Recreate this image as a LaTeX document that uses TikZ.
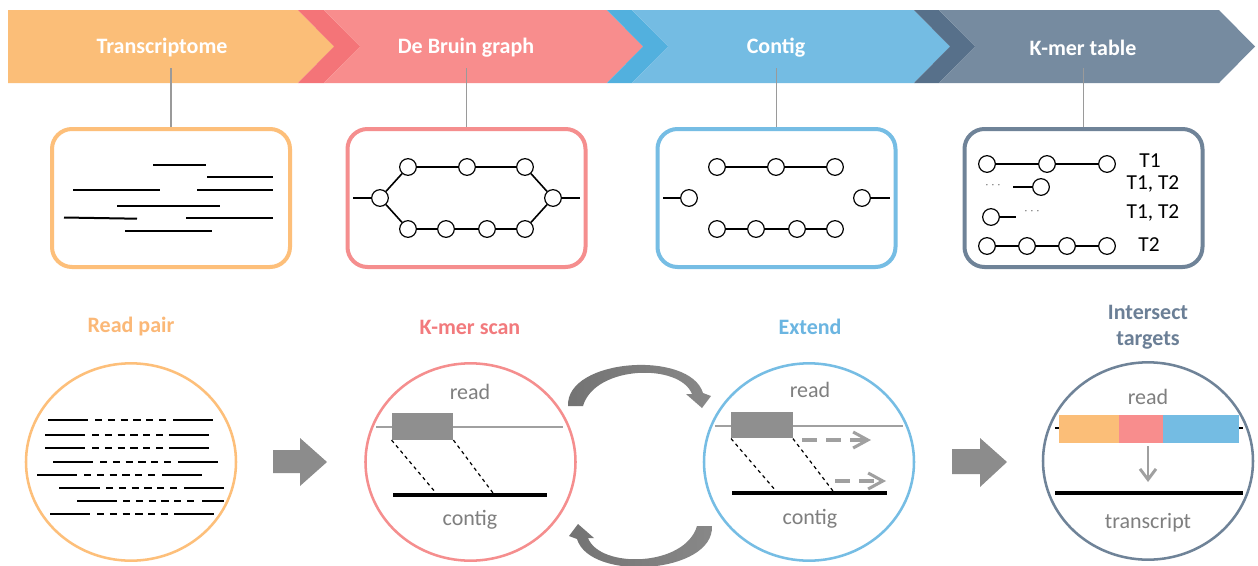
\documentclass[tikz,border=0pt]{standalone}
\usepackage{fontspec}
\setmainfont{Carlito}
\usetikzlibrary{arrows.meta,shapes.geometric}

\definecolor{cOrange}{HTML}{FBBE78}
\definecolor{cPink}{HTML}{F88D8D}
\definecolor{cPinkDk}{HTML}{F47478}
\definecolor{cBlue}{HTML}{74BCE3}
\definecolor{cBlueDk}{HTML}{52B0DE}
\definecolor{cSlate}{HTML}{768BA0}
\definecolor{cSlateDk}{HTML}{57708A}
\definecolor{frameOrange}{HTML}{FDBF7A}
\definecolor{framePink}{HTML}{F58E8E}
\definecolor{frameBlue}{HTML}{76BDE4}
\definecolor{frameSlate}{HTML}{6F8398}
\definecolor{headOrange}{HTML}{FBB877}
\definecolor{headPink}{HTML}{F27A7D}
\definecolor{headBlue}{HTML}{6BB5E1}
\definecolor{headSlate}{HTML}{6B7F96}
\definecolor{stemgray}{HTML}{9A9A9A}
\definecolor{capgray}{HTML}{7F7F7F}
\definecolor{linegray}{HTML}{A0A0A0}
\definecolor{kmergray}{HTML}{8F8F8F}
\definecolor{blockgray}{HTML}{8C8C8C}
\definecolor{arrdark}{HTML}{737373}
\definecolor{arrlight}{HTML}{ADADAD}
\definecolor{arrmid}{HTML}{888888}

\tikzset{
  bannertext/.style={text=white, font=\bfseries\fontsize{16.5}{19}\selectfont},
  stem/.style={draw=stemgray, line width=1.1pt},
  panel/.style={draw, rounded corners=15pt, line width=3pt, minimum width=178.5pt,
    minimum height=103.5pt, fill=white, inner sep=0pt},
  seg/.style={draw=black, line width=1.5pt},
  kn/.style={circle, draw=black, fill=white, line width=0.9pt, minimum size=12.5pt, inner sep=0pt},
  edge/.style={draw=black, line width=1.2pt},
  tlabel/.style={font=\fontsize{16}{19}\selectfont, text=black},
  dotsl/.style={font=\fontsize{10}{10}\selectfont, text=black!60, inner sep=0pt},
  ring/.style={ellipse, draw, line width=1.9pt, minimum width=157.5pt, minimum height=148pt, inner sep=0pt},
  title/.style={font=\bfseries\fontsize{16.5}{19.5}\selectfont, align=center},
  caption/.style={font=\fontsize{16.5}{19}\selectfont, text=capgray},
  readline/.style={draw=linegray, line width=1pt},
  kmer/.style={fill=kmergray, minimum width=46pt, minimum height=20pt, inner sep=0pt},
  link/.style={draw=black, line width=0.9pt, dash pattern=on 2.6pt off 2.6pt},
  contig/.style={draw=black, line width=3.5pt},
  growarrow/.style={draw=linegray, line width=2.3pt, dash pattern=on 11pt off 7pt,
    -{Straight Barb[length=11pt,width=12pt,line width=2.3pt]}},
  downarrow/.style={draw=linegray, line width=2.2pt,
    -{Straight Barb[length=8pt,width=12pt,line width=2.2pt]}},
  pairsolid/.style={draw=black, line width=1.6pt},
  pairgap/.style={draw=black, line width=1.6pt, dash pattern=on 5.4pt off 4.2pt},
  block/.style={fill=blockgray},
  cyclearrow/.style={left color=arrdark, middle color=arrlight, right color=arrmid}
}

\begin{document}
\begin{tikzpicture}[x=0.75pt,y=-0.75pt]
\useasboundingbox[fill=white] (0,0) rectangle (1258,565);

% ---- chevron banner ----
\fill[cOrange] (8,10) -- (298,10) -- (334,46.5) -- (298,83) -- (8,83) -- cycle;
\fill[cPinkDk] (298,10) -- (324,10) -- (360,46.5) -- (324,83) -- (298,83) -- (334,46.5) -- cycle;
\fill[cPink] (324,10) -- (607,10) -- (643,46.5) -- (607,83) -- (324,83) -- (360,46.5) -- cycle;
\fill[cBlueDk] (607,10) -- (632,10) -- (668,46.5) -- (632,83) -- (607,83) -- (643,46.5) -- cycle;
\fill[cBlue] (632,10) -- (914,10) -- (950,46.5) -- (914,83) -- (632,83) -- (668,46.5) -- cycle;
\fill[cSlateDk] (914,10) -- (939,10) -- (975,46.5) -- (939,83) -- (914,83) -- (950,46.5) -- cycle;
\fill[cSlate] (939,10) -- (1219,10) -- (1255,46.5) -- (1219,83) -- (939,83) -- (975,46.5) -- cycle;

\node[bannertext] (tTrans) at (162,48) {Transcriptome};
\node[bannertext] (tDbg) at (466,48) {De Bruin graph};
\node[bannertext] (tContig) at (776,48) {Contig};
\node[bannertext] (tKmer) at (1083,48) {K-mer table};

% ---- panels ----
\node[panel, draw=frameOrange] (box1) at (171,198) {};
\node[panel, draw=framePink] (box2) at (466.5,198) {};
\node[panel, draw=frameBlue] (box3) at (776.5,198) {};
\node[panel, draw=frameSlate] (box4) at (1083.5,198) {};

\coordinate (s1) at (171,68);
\coordinate (s2) at (466.5,68);
\coordinate (s3) at (776.5,68);
\coordinate (s4) at (1083.5,68);
\draw[stem] (s1) -- (box1.north);
\draw[stem] (s2) -- (box2.north);
\draw[stem] (s3) -- (box3.north);
\draw[stem] (s4) -- (box4.north);

% transcriptome reads
\draw[seg] (153,165) -- (206,165);
\draw[seg] (207,177) -- (273,177);
\draw[seg] (73,190) -- (160,190);
\draw[seg] (197,190) -- (273,190);
\draw[seg] (117,206) -- (220,206);
\draw[seg] (64,217.5) -- (137,218.7);
\draw[seg] (186,218) -- (273,218);
\draw[seg] (125,231) -- (212,231);

% de Bruijn graph with a bubble
\coordinate (gIn) at (353,198);
\coordinate (gOut) at (580,198);
\node[kn] (gL) at (380,198) {};
\node[kn] (gR) at (553,198) {};
\node[kn] (gT1) at (408,167) {};
\node[kn] (gT2) at (467,167) {};
\node[kn] (gT3) at (525,167) {};
\node[kn] (gB1) at (408,229) {};
\node[kn] (gB2) at (446,229) {};
\node[kn] (gB3) at (487,229) {};
\node[kn] (gB4) at (525,229) {};
\draw[edge] (gIn) -- (gL);
\draw[edge] (gL) -- (gT1) -- (gT2) -- (gT3) -- (gR);
\draw[edge] (gL) -- (gB1) -- (gB2) -- (gB3) -- (gB4) -- (gR);
\draw[edge] (gR) -- (gOut);

% contigs
\coordinate (cIn) at (663,198);
\coordinate (cOut) at (890,198);
\node[kn] (cL) at (689,198) {};
\node[kn] (cR) at (862,198) {};
\node[kn] (cT1) at (717,167) {};
\node[kn] (cT2) at (776,167) {};
\node[kn] (cT3) at (835,167) {};
\node[kn] (cB1) at (717,229) {};
\node[kn] (cB2) at (756,229) {};
\node[kn] (cB3) at (797,229) {};
\node[kn] (cB4) at (835,229) {};
\draw[edge] (cIn) -- (cL);
\draw[edge] (cR) -- (cOut);
\draw[edge] (cT1) -- (cT2) -- (cT3);
\draw[edge] (cB1) -- (cB2) -- (cB3) -- (cB4);

% k-mer table
\node[kn] (k11) at (987,164) {};
\node[kn] (k12) at (1047,164) {};
\node[kn] (k13) at (1107,164) {};
\draw[edge] (k11) -- (k12) -- (k13);
\node[tlabel] (lab1) at (1150,161) {T1};

\node[dotsl] (d2) at (993,186) {$\cdots$};
\coordinate (k2in) at (1013,187);
\node[kn] (k21) at (1041,187) {};
\draw[edge] (k2in) -- (k21);
\node[tlabel] (lab2) at (1153,184) {T1, T2};

\node[kn] (k31) at (991,217) {};
\coordinate (k3out) at (1016,217);
\draw[edge] (k31) -- (k3out);
\node[dotsl] (d3) at (1032,212) {$\cdots$};
\node[tlabel] (lab3) at (1153,213) {T1, T2};

\node[kn] (k41) at (987,246) {};
\node[kn] (k42) at (1027,246) {};
\node[kn] (k43) at (1067,246) {};
\node[kn] (k44) at (1107,246) {};
\draw[edge] (k41) -- (k42) -- (k43) -- (k44);
\node[tlabel] (lab4) at (1149,245) {T2};

% ---- lower row: stage titles ----
\node[title, text=headOrange] (hRead) at (131,327) {Read pair};
\node[title, text=headPink] (hScan) at (470,327) {K-mer scan};
\node[title, text=headBlue] (hExt) at (810,327) {Extend};
\node[title, text=headSlate] (hInt) at (1148,327) {Intersect\\targets};

% ---- rings ----
\node[ring, draw=frameOrange] (rp) at (131,462) {};
\node[ring, draw=framePink] (ks) at (470.5,462) {};
\node[ring, draw=frameBlue] (ex) at (809,462) {};
\node[ring, draw=frameSlate] (it) at (1148,461) {};

% read pairs
\foreach \y/\a/\b/\c/\d/\e/\f in {
  420/48/88/95/167/173/213, 435/45/85/92/163/169/209, 448/45/85/92/163/169/209,
  462/53/93/100/172/178/218, 475/37/77/84/157/162/202, 488/59/100/106/178/184/224,
  501/77/117/123/197/202/224, 514/50/90/97/168/174/214} {
  \draw[pairsolid] (\a,\y) -- (\b,\y);
  \draw[pairgap] (\c,\y) -- (\d,\y);
  \draw[pairsolid] (\e,\y) -- (\f,\y);
}

% block arrows between stages
\fill[block] (273,450) -- (300,450) -- (300,438) -- (327,462) -- (300,486) -- (300,473) -- (273,473) -- cycle;
\fill[block] (952,449) -- (980,449) -- (980,438) -- (1007,462) -- (980,487) -- (980,474) -- (952,474) -- cycle;

% k-mer scan
\node[caption] (ksRead) at (470,392) {read};
\coordinate (ksA) at (376,427);
\coordinate (ksB) at (563,427);
\draw[readline] (ksA) -- (ksB);
\node[kmer] (ksK) at (422.5,426.5) {};
\coordinate (ksC) at (393,495);
\coordinate (ksD) at (547,495);
\draw[contig] (ksC) -- (ksD);
\coordinate (ksP) at (436,493);
\coordinate (ksQ) at (493,493);
\draw[link] (ksK.south west) -- (ksP);
\draw[link] (ksK.south east) -- (ksQ);
\node[caption] (ksCont) at (470,520) {contig};

% extend
\node[caption] (exRead) at (810,390) {read};
\coordinate (exA) at (715,426);
\coordinate (exB) at (903,426);
\draw[readline] (exA) -- (exB);
\node[kmer] (exK) at (762,425) {};
\coordinate (exC) at (732,493);
\coordinate (exD) at (887,493);
\draw[contig] (exC) -- (exD);
\coordinate (exP) at (776,491);
\coordinate (exQ) at (833,491);
\draw[link] (exK.south west) -- (exP);
\draw[link] (exK.south east) -- (exQ);
\coordinate (g1a) at (802,440);
\coordinate (g1b) at (871,440);
\coordinate (g2a) at (835,481);
\coordinate (g2b) at (886,481);
\draw[growarrow] (g1a) -- (g1b);
\draw[growarrow] (g2a) -- (g2b);
\node[caption] (exCont) at (810,519) {contig};

% cycle arrows between scan and extend
\shade[cyclearrow]
  (568,406) .. controls (566,358) and (690,350) .. (703,393) -- (711,396) -- (702,408)
  -- (686,394) -- (692,394) .. controls (680,363) and (595,365) .. (583,406) -- cycle;
\begin{scope}[rotate around={180:(640,466)}]
\shade[cyclearrow]
  (568,406) .. controls (566,358) and (690,350) .. (703,393) -- (711,396) -- (702,408)
  -- (686,394) -- (692,394) .. controls (680,363) and (595,365) .. (583,406) -- cycle;
\end{scope}

% intersect targets
\node[caption] (itRead) at (1148,397) {read};
\coordinate (itA) at (1055,428);
\coordinate (itB) at (1243,428);
\draw[draw=black, line width=1pt] (itA) -- (itB);
\fill[cOrange] (1059,415) rectangle (1119,443);
\fill[cPink] (1119,415) rectangle (1163,443);
\fill[cBlue] (1163,415) rectangle (1239,443);
\coordinate (itS) at (1148,446);
\coordinate (itT) at (1148,482);
\draw[downarrow] (itS) -- (itT);
\coordinate (itC) at (1055,493);
\coordinate (itD) at (1243,493);
\draw[contig] (itC) -- (itD);
\node[caption] (itCont) at (1148,523) {transcript};

\end{tikzpicture}
\end{document}
